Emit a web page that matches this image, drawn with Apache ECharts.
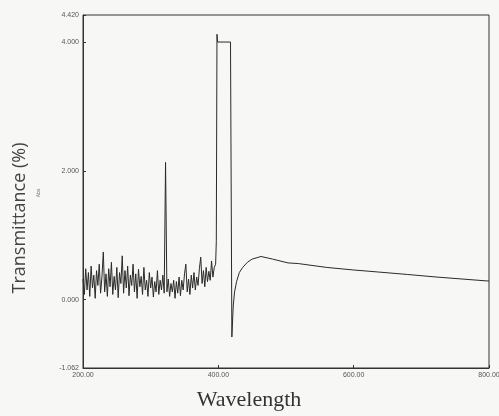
<!DOCTYPE html>
<html>
<head>
<meta charset="utf-8">
<script src="https://cdn.jsdelivr.net/npm/echarts@6/dist/echarts.min.js"></script>
<style>
  html, body { margin: 0; padding: 0; background: #f7f7f5; }
  #main { width: 499px; height: 416px; }
</style>
</head>
<body>
<div id="main"></div>
<script>
var wavelengths = [
    200, 202, 204, 206, 208, 210, 212, 214, 216, 218,
    220, 222, 224, 226, 228, 230, 232, 234, 236, 238,
    240, 242, 244, 246, 248, 250, 252, 254, 256, 258,
    260, 262, 264, 266, 268, 270, 272, 274, 276, 278,
    280, 282, 284, 286, 288, 290, 292, 294, 296, 298,
    300, 302, 304, 306, 308, 310, 312, 314, 316, 318,
    320, 322, 324, 326, 328, 330, 332, 334, 336, 338,
    340, 342, 344, 346, 348, 350, 352, 354, 356, 358,
    360, 362, 364, 366, 368, 370, 372, 374, 376, 378,
    380, 382, 384, 386, 388, 390, 392, 394, 396, 397,
    398, 399, 418, 418.5, 420, 422, 424, 427, 431, 436,
    443, 450, 457, 463, 480, 503, 518, 560, 600, 635,
    680, 723, 760, 797, 800
];
var transmittance = [
    0.32, 0.08, 0.48, 0.15, 0.42, 0.05, 0.52, 0.18, 0.38, 0.02,
    0.45, 0.22, 0.55, 0.10, 0.35, 0.74, 0.12, 0.40, 0.05, 0.48,
    0.20, 0.58, 0.08, 0.36, 0.15, 0.50, 0.03, 0.42, 0.25, 0.68,
    0.10, 0.45, 0.18, 0.52, 0.06, 0.38, 0.22, 0.55, 0.12, 0.40,
    0.02, 0.47, 0.20, 0.36, 0.08, 0.50, 0.15, 0.30, 0.05, 0.42,
    0.18, 0.35, 0.04, 0.28, 0.12, 0.45, 0.08, 0.30, 0.15, 0.38,
    0.10, 2.13, 0.12, 0.32, 0.05, 0.25, 0.12, 0.30, 0.02, 0.28,
    0.10, 0.35, 0.06, 0.30, 0.15, 0.40, 0.55, 0.12, 0.32, 0.08,
    0.38, 0.18, 0.42, 0.15, 0.35, 0.22, 0.48, 0.66, 0.25, 0.45,
    0.20, 0.50, 0.28, 0.44, 0.30, 0.60, 0.35, 0.50, 0.55, 0.90,
    4.12, 4.00, 4.00, 4.00, -0.58, -0.10, 0.12, 0.28, 0.42, 0.50,
    0.58, 0.63, 0.65, 0.67, 0.63, 0.57, 0.56, 0.50, 0.46, 0.43,
    0.39, 0.35, 0.32, 0.29, 0.29
];
var yTicks = [-1.062, 0, 2, 4, 4.42];
var xTicks = [200, 400, 600, 800];

var points = wavelengths.map(function (w, i) { return [w, transmittance[i]]; });

var myChart = echarts.init(document.getElementById('main'));
var option = {
    backgroundColor: '#f7f7f5',
    animation: false,
    grid: {
        left: 83,
        right: 10,
        top: 15,
        bottom: 48,
        outerBoundsMode: 'none',
        show: true,
        borderColor: '#333',
        borderWidth: 1
    },
    xAxis: {
        type: 'value',
        min: 200,
        max: 800,
        splitLine: { show: false },
        axisLine: { onZero: false, lineStyle: { color: '#333' } },
        axisTick: { customValues: xTicks, length: 3, inside: true, lineStyle: { color: '#333' } },
        axisLabel: {
            customValues: xTicks,
            fontSize: 7,
            color: '#555',
            margin: 4,
            formatter: function (v) { return v.toFixed(2); }
        }
    },
    yAxis: {
        type: 'value',
        min: -1.062,
        max: 4.42,
        splitLine: { show: false },
        axisLine: { onZero: false, lineStyle: { color: '#333' } },
        axisTick: { customValues: yTicks, length: 3, inside: true, lineStyle: { color: '#333' } },
        axisLabel: {
            customValues: yTicks,
            fontSize: 7,
            color: '#555',
            margin: 4,
            formatter: function (v) { return v.toFixed(3); }
        }
    },
    graphic: [
        {
            type: 'text',
            x: 20,
            y: 218,
            rotation: Math.PI / 2,
            style: {
                text: 'Transmittance (%)',
                font: '18px "Open Sans"',
                fill: '#444',
                align: 'center',
                verticalAlign: 'middle'
            }
        },
        {
            type: 'text',
            x: 39,
            y: 193,
            rotation: Math.PI / 2,
            style: {
                text: 'Abs',
                font: '5px "Open Sans"',
                fill: '#666',
                align: 'center',
                verticalAlign: 'middle'
            }
        },
        {
            type: 'text',
            x: 249,
            y: 400,
            style: {
                text: 'Wavelength',
                font: '22px "Liberation Serif"',
                fill: '#333',
                align: 'center',
                verticalAlign: 'middle'
            }
        }
    ],
    series: [
        {
            type: 'line',
            data: points,
            showSymbol: false,
            lineStyle: { color: '#2a2a2a', width: 1 }
        }
    ]
};
myChart.setOption(option);
</script>
</body>
</html>
